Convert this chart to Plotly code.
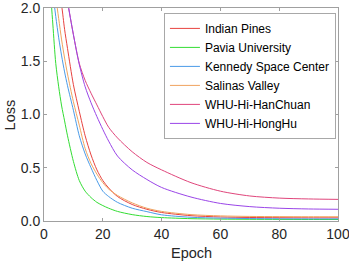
import plotly.graph_objects as go

epochs = [1, 2, 3, 4, 5, 6, 7, 8, 10, 12, 14, 16, 18, 20, 22, 25, 30, 35, 40, 50, 60, 70, 80, 90, 100]

series_names = ["Indian Pines", "Pavia University", "Kennedy Space Center",
                "Salinas Valley", "WHU-Hi-HanChuan", "WHU-Hi-HongHu"]

loss_indian_pines = [3.0, 2.75, 2.5, 2.3, 2.15, 2.02, 1.8, 1.62, 1.28, 1.03, 0.80, 0.62, 0.48, 0.38, 0.31,
                     0.23, 0.155, 0.11, 0.08, 0.05, 0.038, 0.033, 0.031, 0.030, 0.030]
loss_pavia = [2.9, 2.25, 1.85, 1.48, 1.26, 1.08, 0.94, 0.8, 0.56, 0.38, 0.28, 0.22, 0.175, 0.145, 0.12,
              0.09, 0.06, 0.042, 0.032, 0.022, 0.018, 0.016, 0.015, 0.014, 0.014]
loss_ksc = [2.7, 2.4, 2.15, 1.92, 1.72, 1.55, 1.4, 1.27, 1.04, 0.8, 0.63, 0.5, 0.38, 0.28, 0.23,
            0.175, 0.12, 0.088, 0.058, 0.035, 0.027, 0.023, 0.021, 0.020, 0.020]
loss_salinas = [2.8, 2.55, 2.3, 2.1, 1.9, 1.7, 1.53, 1.38, 1.12, 0.9, 0.68, 0.54, 0.44, 0.36, 0.3,
                0.24, 0.17, 0.12, 0.09, 0.06, 0.048, 0.043, 0.041, 0.040, 0.040]
loss_hanchuan = [3.6, 3.3, 3.0, 2.8, 2.58, 2.4, 2.22, 2.06, 1.75, 1.48, 1.32, 1.2, 1.09, 0.98, 0.88,
                 0.78, 0.65, 0.55, 0.48, 0.36, 0.28, 0.235, 0.215, 0.207, 0.203]
loss_honghu = [3.6, 3.3, 3.0, 2.8, 2.58, 2.4, 2.22, 2.06, 1.75, 1.47, 1.26, 1.11, 0.98, 0.86, 0.75,
               0.61, 0.48, 0.39, 0.315, 0.225, 0.165, 0.135, 0.12, 0.113, 0.110]

all_losses = [loss_indian_pines, loss_pavia, loss_ksc, loss_salinas, loss_hanchuan, loss_honghu]
colors = ["#e8423f", "#33dd33", "#4a9be8", "#f0a35e", "#e0457b", "#9a45e8"]

x_ticks = [0, 20, 40, 60, 80, 100]
y_ticks = [0.0, 0.5, 1.0, 1.5, 2.0]

fig = go.Figure()
for name, ys, c in zip(series_names, all_losses, colors):
    fig.add_trace(go.Scatter(x=epochs, y=ys, name=name, mode="lines",
                             line=dict(color=c, width=1.0, shape="spline", smoothing=0.8)))

font_family = "Liberation Sans, Arial, sans-serif"
axis_common = dict(showline=True, linecolor="#a0a0a0", linewidth=1, mirror="allticks",
                   ticks="inside", ticklen=3, tickcolor="#a0a0a0", showgrid=False,
                   zeroline=False, automargin=False, ticklabeloverflow="allow",
                   tickfont=dict(size=14, color="#262626", family=font_family))

fig.update_layout(
    width=349, height=262,
    margin=dict(l=44, r=11, t=8, b=41),
    paper_bgcolor="white", plot_bgcolor="white",
    font=dict(family=font_family, color="#262626"),
    showlegend=True,
    legend=dict(x=0.993, y=0.977, xanchor="right", yanchor="top",
                bgcolor="white", bordercolor="#a8a8a8", borderwidth=1,
                font=dict(size=12, color="#000000", family=font_family),
                tracegroupgap=0, itemwidth=30),
    annotations=[
        dict(text="Epoch", x=0.5, y=-0.150, xref="paper", yref="paper",
             xanchor="center", yanchor="middle", showarrow=False,
             font=dict(size=14.5, color="#262626")),
        dict(text="Loss", x=-0.116, y=0.5, xref="paper", yref="paper", textangle=-90,
             xanchor="center", yanchor="middle", showarrow=False,
             font=dict(size=14.5, color="#262626")),
    ],
)
fig.update_xaxes(range=[0, 100], tickvals=x_ticks, **axis_common)
fig.update_yaxes(range=[0, 2], tickvals=y_ticks, tickformat=".1f", **axis_common)

fig.write_html("out.html", config={"displayModeBar": False},
               post_script="document.body.style.margin='0px';")
